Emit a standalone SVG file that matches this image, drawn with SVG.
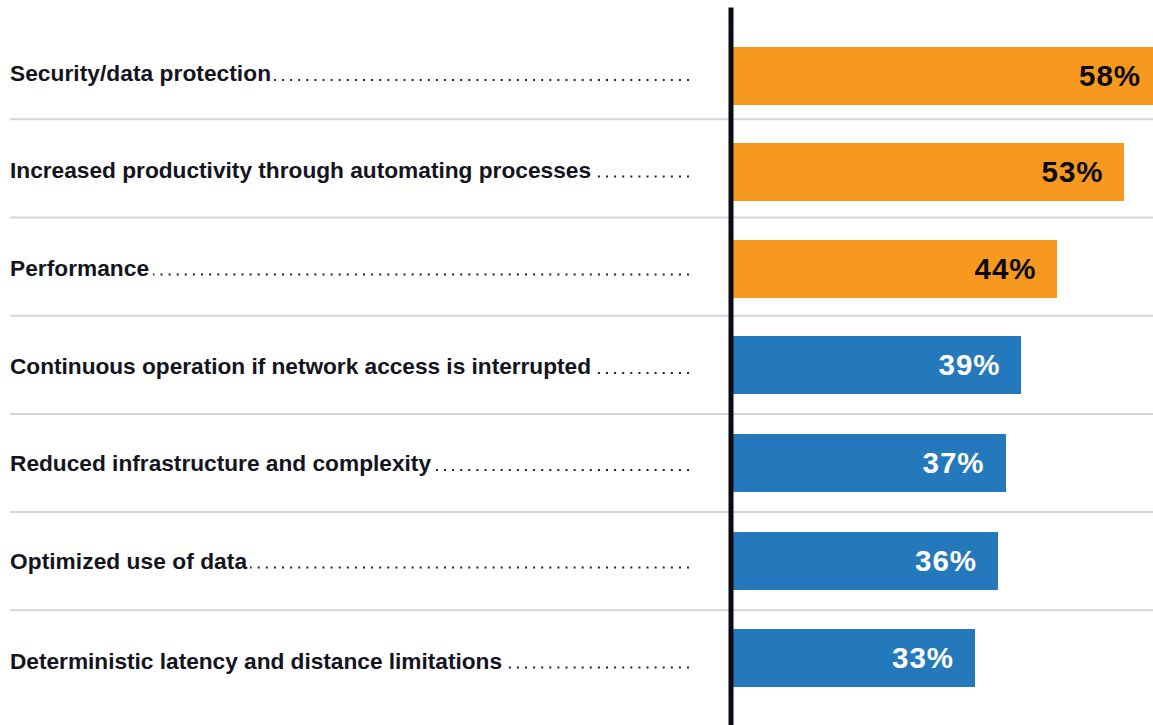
<svg xmlns="http://www.w3.org/2000/svg" width="1153" height="725" viewBox="0 0 1153 725">
<style>
.lbl{font-family:"Liberation Sans",Arial,sans-serif;font-weight:bold;font-size:22.7px;fill:#14141e}
.pct{font-family:"Liberation Sans",Arial,sans-serif;font-weight:bold;font-size:29.5px;text-anchor:end}
.dk{fill:#0a0a0a}
.wt{fill:#ffffff}
.org{fill:#F8991F}
.blu{fill:#2479BC}
.sep{stroke:#d6d6d6;stroke-width:2}
.dots{stroke:#222230;stroke-width:2;stroke-dasharray:2 6.1}
</style>
<rect width="1153" height="725" fill="#ffffff"/>
<g id="separators">
<line class="sep" x1="10" y1="119.3" x2="1153" y2="119.3"/>
<line class="sep" x1="10" y1="217.5" x2="1153" y2="217.5"/>
<line class="sep" x1="10" y1="315.8" x2="1153" y2="315.8"/>
<line class="sep" x1="10" y1="413.9" x2="1153" y2="413.9"/>
<line class="sep" x1="10" y1="512" x2="1153" y2="512"/>
<line class="sep" x1="10" y1="610.3" x2="1153" y2="610.3"/>
</g>
<g id="row1">
<text class="lbl" x="10" y="81" textLength="261" lengthAdjust="spacing">Security/data protection</text>
<line class="dots" x1="689" y1="80" x2="274" y2="80"/>
<rect class="org" x="733" y="47" width="430" height="58"/>
<text class="pct dk" x="1140" y="86" textLength="61" lengthAdjust="spacing">58%</text>
</g>
<g id="row2">
<text class="lbl" x="10" y="177.5" textLength="581" lengthAdjust="spacing">Increased productivity through automating processes</text>
<line class="dots" x1="689" y1="176.5" x2="594" y2="176.5"/>
<rect class="org" x="733" y="143" width="391" height="58"/>
<text class="pct dk" x="1102.5" y="182.3" textLength="61" lengthAdjust="spacing">53%</text>
</g>
<g id="row3">
<text class="lbl" x="10" y="275.5" textLength="139" lengthAdjust="spacing">Performance</text>
<line class="dots" x1="689" y1="274.5" x2="153" y2="274.5"/>
<rect class="org" x="733" y="240" width="324" height="58"/>
<text class="pct dk" x="1035.5" y="279" textLength="61" lengthAdjust="spacing">44%</text>
</g>
<g id="row4">
<text class="lbl" x="10" y="374" textLength="581" lengthAdjust="spacing">Continuous operation if network access is interrupted</text>
<line class="dots" x1="689" y1="373" x2="594" y2="373"/>
<rect class="blu" x="733" y="336" width="288" height="58"/>
<text class="pct wt" x="999.5" y="375" textLength="61" lengthAdjust="spacing">39%</text>
</g>
<g id="row5">
<text class="lbl" x="10" y="471" textLength="421" lengthAdjust="spacing">Reduced infrastructure and complexity</text>
<line class="dots" x1="689" y1="470" x2="434" y2="470"/>
<rect class="blu" x="733" y="434" width="273" height="58"/>
<text class="pct wt" x="983.5" y="473" textLength="61" lengthAdjust="spacing">37%</text>
</g>
<g id="row6">
<text class="lbl" x="10" y="568.5" textLength="237" lengthAdjust="spacing">Optimized use of data</text>
<line class="dots" x1="689" y1="567.5" x2="250" y2="567.5"/>
<rect class="blu" x="733" y="532" width="265" height="58"/>
<text class="pct wt" x="976" y="571" textLength="61" lengthAdjust="spacing">36%</text>
</g>
<g id="row7">
<text class="lbl" x="10" y="668.5" textLength="492" lengthAdjust="spacing">Deterministic latency and distance limitations</text>
<line class="dots" x1="689" y1="667.5" x2="505" y2="667.5"/>
<rect class="blu" x="733" y="629" width="242" height="58"/>
<text class="pct wt" x="953" y="668" textLength="61" lengthAdjust="spacing">33%</text>
</g>
<g id="axis">
<rect x="728.5" y="7.5" width="5" height="718" fill="#0b0b16"/>
</g>
</svg>
